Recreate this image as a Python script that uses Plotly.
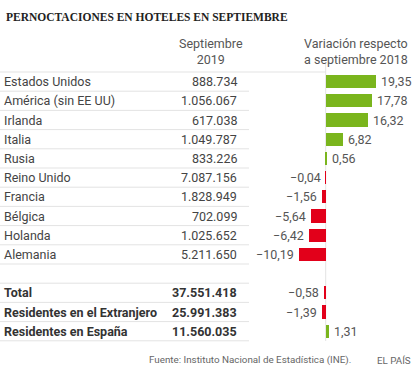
import plotly.graph_objects as go

title = "PERNOCTACIONES EN HOTELES EN SEPTIEMBRE"
header_value = "Septiembre<br>2019"
header_var = "Variación respecto<br>a septiembre 2018"

countries = ["Estados Unidos", "América (sin EE UU)", "Irlanda", "Italia", "Rusia",
             "Reino Unido", "Francia", "Bélgica", "Holanda", "Alemania"]
country_values = ["888.734", "1.056.067", "617.038", "1.049.787", "833.226",
                  "7.087.156", "1.828.949", "702.099", "1.025.652", "5.211.650"]
country_var = [19.35, 17.78, 16.32, 6.82, 0.56, -0.04, -1.56, -5.64, -6.42, -10.19]

totals = ["Total", "Residentes en el Extranjero", "Residentes en España"]
total_values = ["37.551.418", "25.991.383", "11.560.035"]
total_var = [-0.58, -1.39, 1.31]

source = "Fuente: Instituto Nacional de Estadística (INE)."
brand = "EL PAÍS"

SPACER = " "
categories = countries + [SPACER] + totals
var_rows = countries + totals
var_vals = country_var + total_var

W, H = 414, 369
GREEN = "#7ab51d"
RED = "#e2001a"
LINE = "#e3e3e3"
FONT = "Roboto"

def fmt(v):
    return f"{v:.2f}".replace(".", ",").replace("-", "\u2212")

fig = go.Figure()
fig.add_trace(go.Bar(
    x=var_vals, y=var_rows, orientation="h", width=0.68,
    marker=dict(color=[GREEN if v >= 0 else RED for v in var_vals], line=dict(width=0)),
    hoverinfo="skip",
))

ann = []
ann.append(dict(text="<b>" + title + "</b>", x=4 / W, y=1 - 17 / H, xref="paper", yref="paper",
                xanchor="left", yanchor="middle", showarrow=False,
                font=dict(family="Liberation Serif", size=11.5, color="#222")))
ann.append(dict(text=header_value, x=210.5 / W, y=1 - 51.5 / H, xref="paper", yref="paper",
                xanchor="center", yanchor="middle", showarrow=False, align="center",
                font=dict(family=FONT, size=12.5, color="#555")))
ann.append(dict(text=header_var, x=355.5 / W, y=1 - 51.5 / H, xref="paper", yref="paper",
                xanchor="center", yanchor="middle", showarrow=False, align="center",
                font=dict(family=FONT, size=12.5, color="#555")))

for name, val in zip(countries, country_values):
    ann.append(dict(text=name, x=2 / W, y=name, xref="paper", yref="y", xanchor="left",
                    yanchor="middle", showarrow=False, font=dict(family=FONT, size=12.5, color="#444")))
    ann.append(dict(text=val, x=239 / W, y=name, xref="paper", yref="y", xanchor="right",
                    yanchor="middle", showarrow=False, font=dict(family=FONT, size=12.5, color="#444")))
for name, val in zip(totals, total_values):
    ann.append(dict(text="<b>" + name + "</b>", x=2 / W, y=name, xref="paper", yref="y", xanchor="left",
                    yanchor="middle", showarrow=False, font=dict(family=FONT, size=12.5, color="#333")))
    ann.append(dict(text="<b>" + val + "</b>", x=239 / W, y=name, xref="paper", yref="y", xanchor="right",
                    yanchor="middle", showarrow=False, font=dict(family=FONT, size=12.5, color="#333")))

for name, v in zip(var_rows, var_vals):
    pos = v >= 0
    ann.append(dict(text=fmt(v), x=v, y=name, xref="x", yref="y",
                    xanchor="left" if pos else "right", xshift=3 if pos else -3,
                    yanchor="middle", showarrow=False,
                    font=dict(family=FONT, size=12.5, color="#555")))

ann.append(dict(text=source, x=353 / W, y=1 - 360 / H, xref="paper", yref="paper",
                xanchor="right", yanchor="middle", showarrow=False,
                font=dict(family=FONT, size=9.8, color="#666")))
ann.append(dict(text=brand, x=413 / W, y=1 - 360 / H, xref="paper", yref="paper",
                xanchor="right", yanchor="middle", showarrow=False,
                font=dict(family=FONT, size=9.8, color="#666")))

shapes = []
n = len(categories)
shapes.append(dict(type="line", xref="paper", yref="y", x0=0, x1=326 / W, y0=-0.5, y1=-0.5,
                   line=dict(color=LINE, width=1)))
for i in range(n):
    if categories[i] == SPACER:
        continue
    shapes.append(dict(type="line", xref="paper", yref="y", x0=0, x1=249 / W,
                       y0=i + 0.5, y1=i + 0.5, line=dict(color=LINE, width=1)))
shapes.append(dict(type="line", xref="paper", yref="y", x0=0, x1=249 / W,
                   y0=len(countries) + 0.5, y1=len(countries) + 0.5,
                   line=dict(color=LINE, width=1)))
shapes.append(dict(type="line", xref="x", yref="paper", x0=0, x1=0, y0=1 - 64 / H, y1=1 - 341 / H,
                   line=dict(color=LINE, width=1), layer="below"))

row_h = 19.2
row0 = 81.6
ytop = -row0 / row_h
ybot = (H - row0) / row_h
zero_px = 325.7
scale = 2.58
xmin = -zero_px / scale
xmax = (W - zero_px) / scale

fig.update_layout(
    width=W, height=H, autosize=False,
    margin=dict(l=0, r=0, t=0, b=0),
    paper_bgcolor="white", plot_bgcolor="white",
    showlegend=False,
    xaxis=dict(range=[xmin, xmax], visible=False, fixedrange=True),
    yaxis=dict(type="category", categoryorder="array", categoryarray=categories,
               range=[ybot, ytop], visible=False, fixedrange=True),
    annotations=ann, shapes=shapes,
    bargap=0,
)
fig.write_html("out.html", config={"displayModeBar": False},
               post_script="document.body.style.margin='0';document.body.style.overflow='hidden';")
